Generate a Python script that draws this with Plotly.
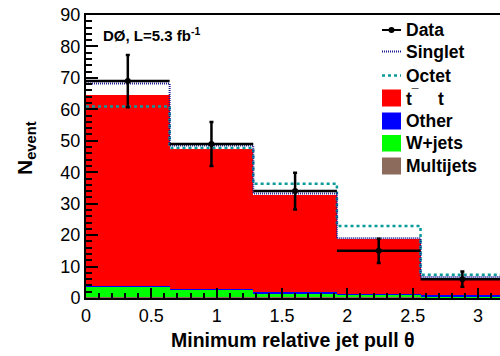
import numpy as np
import plotly.graph_objects as go

# ---- data ----
bin_edges = [0.0, 0.64, 1.28, 1.92, 2.56, 3.2]
multijets = [0.4, 0.4, 0.3, 0.2, 0.2]
wjets = [3.1, 2.4, 1.1, 0.8, 0.2]
other = [0.2, 0.2, 0.4, 0.2, 0.4]
ttbar = [61.0, 44.3, 31.1, 17.5, 5.3]
singlet = [68.2, 48.5, 33.2, 19.0, 6.7]
octet = [60.9, 47.7, 36.3, 22.9, 7.4]
data = [69, 49, 34, 15, 6]

edges = np.array(bin_edges)
centers = (edges[:-1] + edges[1:]) / 2
widths = edges[1:] - edges[:-1]

FONT = "Liberation Sans, Arial, Helvetica, sans-serif"

fig = go.Figure()
for name, vals, col in [("Multijets", multijets, "#8c6b5c"),
                        ("W+jets", wjets, "#00ff00"),
                        ("Other", other, "#0000ff"),
                        ("t̄t", ttbar, "#ff0000")]:
    fig.add_trace(go.Bar(x=centers, y=vals, width=widths, name=name,
                         marker=dict(color=col, line=dict(width=0)),
                         showlegend=False))

def step(vals):
    return list(edges), list(vals) + [vals[-1]]

xo, yo = step(octet)
fig.add_trace(go.Scatter(x=xo, y=yo, mode="lines", line_shape="hv", name="Octet",
                         line=dict(color="#0b9a9a", width=2.5, dash="3px,3px"),
                         showlegend=False))
xs, ys = step(singlet)
fig.add_trace(go.Scatter(x=xs, y=ys, mode="lines", line_shape="hv", name="Singlet",
                         line=dict(color="#1a1a90", width=2, dash="1px,1px"),
                         showlegend=False))

fig.add_trace(go.Scatter(
    x=centers, y=data, mode="markers", name="Data",
    marker=dict(color="black", size=6),
    error_x=dict(type="data", array=list(widths / 2), color="black", thickness=2.5, width=0),
    error_y=dict(type="data", array=list(np.sqrt(data)), color="black", thickness=2.5, width=2),
    showlegend=False))

# ---- layout geometry ----
L, T, W, H = 86, 15, 414, 283
def px(x):
    return (x - L) / W
def py(y):
    return 1 - (y - T) / H

shapes = []
annotations = []
# legend
lx0, lx1 = 382, 401
shapes.append(dict(type="line", xref="paper", yref="paper", x0=px(lx0), x1=px(lx1),
                   y0=py(30), y1=py(30), line=dict(color="black", width=2)))
shapes.append(dict(type="circle", xref="paper", yref="paper", x0=px(388.5), x1=px(394.5),
                   y0=py(27), y1=py(33), fillcolor="black", line=dict(color="black", width=0)))
shapes.append(dict(type="line", xref="paper", yref="paper", x0=px(lx0), x1=px(lx1),
                   y0=py(51.5), y1=py(51.5), line=dict(color="#1a1a90", width=2, dash="1px,1px")))
shapes.append(dict(type="line", xref="paper", yref="paper", x0=px(lx0), x1=px(lx1),
                   y0=py(75.5), y1=py(75.5), line=dict(color="#0b9a9a", width=2.5, dash="3px,3px")))
boxes = [(89.5, 106.5, "#ff0000"), (112.5, 129.5, "#0000ff"),
         (135, 151.5, "#00ff00"), (157.5, 174.5, "#8c6b5c")]
for y0, y1, c in boxes:
    shapes.append(dict(type="rect", xref="paper", yref="paper", x0=px(lx0), x1=px(lx1),
                       y0=py(y1), y1=py(y0), fillcolor=c, line=dict(width=0)))
labels = [("Data", 30), ("Singlet", 51.5), ("Octet", 75.5), ("t<sup>¯</sup>    t", 98),
          ("Other", 121), ("W+jets", 143), ("Multijets", 165.5)]
for txt, yy in labels:
    annotations.append(dict(text="<b>%s</b>" % txt, xref="paper", yref="paper",
                            x=px(404), y=py(yy), xanchor="left", yanchor="middle",
                            showarrow=False, font=dict(family=FONT, size=17.5, color="black")))

annotations.append(dict(text="<b>DØ, L=5.3 fb<sup>-1</sup></b>", xref="paper", yref="paper",
                        x=px(101), y=py(34), xanchor="left", yanchor="middle", showarrow=False,
                        font=dict(family=FONT, size=15, color="black")))
annotations.append(dict(text="<b>Minimum relative jet pull θ</b>", xref="paper", yref="paper",
                        x=px(293), y=py(340), xanchor="center", yanchor="middle", showarrow=False,
                        font=dict(family=FONT, size=19.5, color="black")))
annotations.append(dict(text="<b>N<sub>event</sub></b>", xref="paper", yref="paper",
                        x=px(26), y=py(148), xanchor="center", yanchor="middle", showarrow=False,
                        textangle=-90, font=dict(family=FONT, size=21, color="black")))

fig.update_layout(
    width=500, height=356,
    margin=dict(l=L, r=500 - L - W, t=T, b=356 - T - H),
    paper_bgcolor="white", plot_bgcolor="white",
    barmode="stack", bargap=0, showlegend=False,
    shapes=shapes, annotations=annotations,
    font=dict(family=FONT, color="black"),
    xaxis=dict(range=[0, 3.168], tickmode="linear", tick0=0, dtick=0.5,
               ticks="inside", ticklen=10, tickwidth=2, tickcolor="black",
               minor=dict(dtick=0.1, ticks="inside", ticklen=5, tickwidth=1.5, tickcolor="black"),
               showline=True, linecolor="black", linewidth=2, mirror=True,
               showgrid=False, zeroline=False,
               tickfont=dict(family=FONT, size=18, color="black")),
    yaxis=dict(range=[0, 90], tickmode="linear", tick0=0, dtick=10,
               ticks="inside", ticklen=12, tickwidth=2, tickcolor="black",
               minor=dict(dtick=2, ticks="inside", ticklen=6, tickwidth=1.5, tickcolor="black"),
               showline=True, linecolor="black", linewidth=2, mirror=False,
               showgrid=False, zeroline=False,
               tickfont=dict(family=FONT, size=18, color="black")),
)

fig.write_html("out.html", config={"displayModeBar": False},
               post_script="document.body.style.margin='0';document.body.style.padding='0';")
